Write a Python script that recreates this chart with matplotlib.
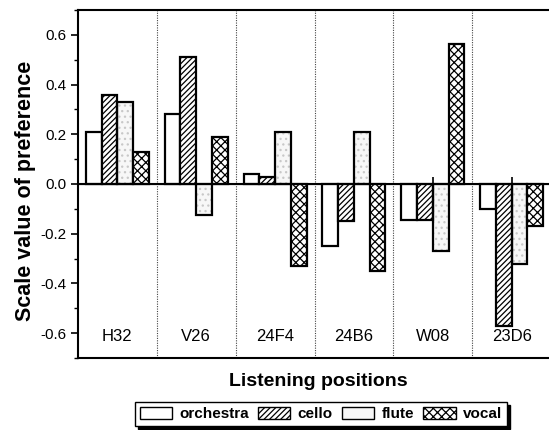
import numpy as np
import matplotlib.pyplot as plt
import matplotlib.transforms as mtransforms
from matplotlib.patches import Patch

plt.rcParams['font.family'] = ['Liberation Sans', 'DejaVu Sans']
plt.rcParams['axes.unicode_minus'] = False
plt.rcParams['hatch.linewidth'] = 0.9

# preference scale values per listening position
positions = ['H32', 'V26', '24F4', '24B6', 'W08', '23D6']
orchestra = [0.21, 0.28, 0.04, -0.25, -0.145, -0.10]
cello = [0.36, 0.51, 0.03, -0.15, -0.145, -0.57]
flute = [0.33, -0.125, 0.21, 0.21, -0.27, -0.32]
vocal = [0.13, 0.19, -0.33, -0.35, 0.565, -0.17]

fig = plt.figure(figsize=(5.49, 4.30), dpi=100)
ax = fig.add_axes([78 / 549, 1 - 358 / 430, 473 / 549, 348 / 430])

x = np.arange(len(positions))
w = 0.2
lw = 1.6

ax.bar(x - 1.5 * w, orchestra, w, facecolor='white', edgecolor='black',
       linewidth=lw, zorder=3)
ax.bar(x - 0.5 * w, cello, w, facecolor='white', edgecolor='black',
       linewidth=lw, hatch='//////', zorder=3)
# flute: faint stipple underneath a plain outline
ax.bar(x + 0.5 * w, flute, w, facecolor='#f7f7f7', edgecolor='#c8c8c8',
       linewidth=0, hatch='...', zorder=2.9)
ax.bar(x + 0.5 * w, flute, w, facecolor='none', edgecolor='black',
       linewidth=lw, zorder=3)
ax.bar(x + 1.5 * w, vocal, w, facecolor='white', edgecolor='black',
       linewidth=lw, hatch='xxxx', zorder=3)

ax.set_xlim(-0.5, 5.5)
ax.set_ylim(-0.7, 0.7)

# dotted separators between positions
for b in x[:-1] + 0.5:
    ax.axvline(b, color='#444444', linestyle=(0, (1, 1.2)), linewidth=0.8, zorder=1)

ax.axhline(0, color='black', linewidth=1.5, zorder=4)
zero_axis = ax.secondary_xaxis(0.5)
zero_axis.spines['bottom'].set_visible(False)
zero_axis.set_xticks(x)
zero_axis.set_xticklabels([])
zero_axis.tick_params(direction='out', length=5, width=1.2)

ax.set_xticks([])
for xi, name in zip(x, positions):
    ax.text(xi, -0.612, name, ha='center', va='center', fontsize=12)

ax.set_yticks(np.arange(-0.6, 0.61, 0.2))
ax.set_yticklabels(['-0.6', '-0.4', '-0.2', '0.0', '0.2', '0.4', '0.6'])
ax.set_yticks(np.arange(-0.7, 0.71, 0.1), minor=True)
ax.tick_params(axis='y', which='major', direction='out', length=5, width=1.2, labelsize=11)
ax.tick_params(axis='y', which='minor', direction='out', length=3, width=1.0)

ax.spines['right'].set_visible(False)
for s in ['left', 'top', 'bottom']:
    ax.spines[s].set_linewidth(1.5)

fig.text(26 / 549, 1 - 191 / 430, 'Scale value of preference', rotation=90,
         ha='center', va='center', fontsize=15.5, fontweight='bold')
fig.text(318 / 549, 1 - 381 / 430, 'Listening positions', ha='center',
         va='center', fontsize=14, fontweight='bold')

leg_handles = [Patch(facecolor='white', edgecolor='black', linewidth=1.0),
               Patch(facecolor='white', edgecolor='black', linewidth=1.0, hatch='//////'),
               Patch(facecolor='#f7f7f7', edgecolor='black', linewidth=1.0),
               Patch(facecolor='white', edgecolor='black', linewidth=1.0, hatch='xxxx')]
leg = fig.legend(leg_handles, ['orchestra', 'cello', 'flute', 'vocal'],
                 loc='center', bbox_to_anchor=(321 / 549, 1 - 414 / 430), ncol=4,
                 prop={'weight': 'bold', 'size': 11}, frameon=True, fancybox=False,
                 shadow={'color': 'black', 'alpha': 1.0}, borderpad=0.3,
                 handlelength=2.1, handleheight=0.85, handletextpad=0.5,
                 columnspacing=0.6, borderaxespad=0)
leg.get_frame().set_edgecolor('black')
leg.get_frame().set_linewidth(1.0)

fig.savefig('out.png', dpi=100)
